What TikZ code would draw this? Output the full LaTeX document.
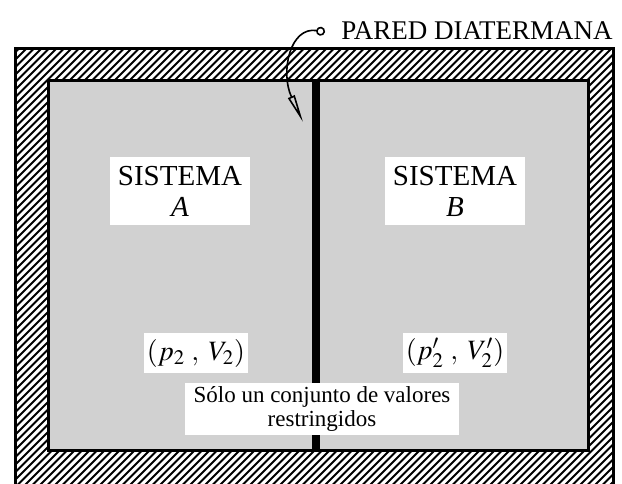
\documentclass[tikz,border=0pt]{standalone}
\usepackage{mathptmx}
\usepackage{fontspec}
\setmainfont{Liberation Serif}
\usetikzlibrary{arrows.meta}

\begin{document}
\begin{tikzpicture}[x=0.5pt,y=-0.5pt,
      pin/.style={{Circle[open,length=4.5pt,width=4.5pt]}-{Triangle[open,length=14pt,width=3.6pt]}, thick},
      tag/.style={fill=white, align=center, inner sep=0pt},
      frame/.style={line width=1.5pt}
    ]
    \useasboundingbox (0,0) rectangle (622,483);
    \clip (0,0) rectangle (622,483);
    % hatched walls of the enclosure
    \begin{scope}[even odd rule]
      \clip (15,48) rectangle (613,500) (48,80) rectangle (588,450);
      \foreach \i in {-500,-492.5,...,640}
        \draw[line width=0.9pt] (\i,500) -- ++(500,-500);
    \end{scope}
    \fill[black!18] (48,80) rectangle (588,450);
    \draw[frame] (15,48) rectangle (613,500);
    \draw[frame] (48,80) rectangle (588,450);
    \node[fill=black, minimum width=4pt, minimum height=185pt, inner sep=0pt] (wall) at (316,265) {};

    \node[tag, minimum width=70pt, minimum height=34pt, font=\fontsize{14.5}{15.5}\selectfont]
      (sysA) at (180,191) {SISTEMA\\\textit{A}};
    \node[tag, minimum width=70pt, minimum height=34pt, font=\fontsize{14.5}{15.5}\selectfont]
      (sysB) at (455,191) {SISTEMA\\\textit{B}};
    \node[tag, minimum width=52pt, minimum height=20pt, font=\fontsize{14}{16}\selectfont]
      (stateA) at (196,353) {$(p_2\;,\;V_2)$};
    \node[tag, minimum width=52pt, minimum height=20pt, font=\fontsize{14}{16}\selectfont]
      (stateB) at (455,353) {$(p'_2\;,\;V'_2)$};
    \node[tag, minimum width=137pt, minimum height=26pt, font=\fontsize{11.5}{12}\selectfont]
      (note) at (322,409) {Sólo un conjunto de valores\\restringidos};

    \node[anchor=west, inner sep=0pt, font=\fontsize{13.5}{15}\selectfont]
      (label) at (341,31) {PARED DIATERMANA};
    \coordinate (ring) at (325,32);
    \coordinate (tip) at (303,122);
    \draw[pin] (ring) .. controls (290,26) and (280,72) .. (tip);
  \end{tikzpicture}
\end{document}
